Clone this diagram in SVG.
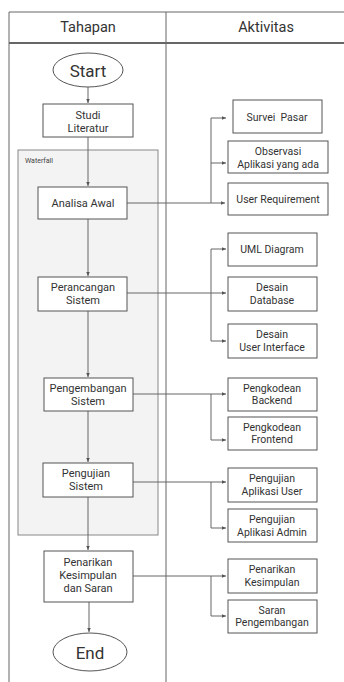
<svg xmlns="http://www.w3.org/2000/svg" width="344" height="682" viewBox="0 0 344 682">
<style>
.t{font-family:Roboto,"Liberation Sans",sans-serif;fill:#333;text-anchor:middle;dominant-baseline:central}
.n{font-size:11px}
.a{font-size:10.5px}
.h{font-size:14.5px}
.se{font-size:17px}
.box{fill:#fff;stroke:#555;stroke-width:1}
.c{fill:none;stroke:#666;stroke-width:1}
</style>
<defs>
<marker id="ar" markerWidth="5" markerHeight="5" refX="4.5" refY="2.5" orient="auto" markerUnits="userSpaceOnUse">
<path d="M0,0.5 L4.5,2.5 L0,4.5 z" fill="#555"/>
</marker>
</defs>
<g id="table">
<rect x="0" y="0" width="344" height="682" fill="#fff"/>
<line x1="9" y1="12" x2="344" y2="12" stroke="#666" stroke-width="1"/>
<line x1="9" y1="43" x2="344" y2="43" stroke="#666" stroke-width="2"/>
<line x1="9" y1="12" x2="9" y2="682" stroke="#666" stroke-width="1"/>
<line x1="166" y1="12" x2="166" y2="682" stroke="#666" stroke-width="1"/>
<text class="t h" x="88" y="27">Tahapan</text>
<text class="t h" x="266" y="27">Aktivitas</text>
</g>
<g id="waterfall">
<rect x="18" y="150" width="140" height="385" fill="#f3f3f3" stroke="#888" stroke-width="1"/>
<text x="25" y="161" style="font-family:Roboto,'Liberation Sans',sans-serif;font-size:7px;fill:#444;dominant-baseline:central">Waterfall</text>
</g>
<g id="connectors">
<path class="c" d="M88,87 V103" marker-end="url(#ar)"/>
<path class="c" d="M88,137 V186" marker-end="url(#ar)"/>
<path class="c" d="M88,219 V276" marker-end="url(#ar)"/>
<path class="c" d="M88,311 V377" marker-end="url(#ar)"/>
<path class="c" d="M88,411 V462" marker-end="url(#ar)"/>
<path class="c" d="M88,497 V550" marker-end="url(#ar)"/>
<path class="c" d="M89,602 V632" marker-end="url(#ar)"/>
<path class="c" d="M127,203 H225" marker-end="url(#ar)"/>
<path class="c" d="M211,203 V118 H226" marker-end="url(#ar)"/>
<path class="c" d="M211,163 H226" marker-end="url(#ar)"/>
<path class="c" d="M127,293 H226" marker-end="url(#ar)"/>
<path class="c" d="M211,293 V249 H226" marker-end="url(#ar)"/>
<path class="c" d="M211,293 V341 H226" marker-end="url(#ar)"/>
<path class="c" d="M133,394 H226" marker-end="url(#ar)"/>
<path class="c" d="M211,394 V440 H226" marker-end="url(#ar)"/>
<path class="c" d="M133,482 H226" marker-end="url(#ar)"/>
<path class="c" d="M211,482 V528 H226" marker-end="url(#ar)"/>
<path class="c" d="M133,576 H226" marker-end="url(#ar)"/>
<path class="c" d="M211,576 V616 H226" marker-end="url(#ar)"/>
</g>
<g id="start">
<ellipse cx="88" cy="70" rx="35" ry="17" class="box"/>
<text class="t se" x="88" y="71">Start</text>
</g>
<g id="studi">
<rect x="43" y="104" width="90" height="33" class="box"/>
<text class="t n" x="88" y="115">Studi</text>
<text class="t n" x="88" y="128">Literatur</text>
</g>
<g id="analisa">
<rect x="38" y="187" width="89" height="32" class="box"/>
<text class="t n" x="83" y="203">Analisa Awal</text>
</g>
<g id="perancangan">
<rect x="38" y="277" width="89" height="34" class="box"/>
<text class="t n" x="83" y="287">Perancangan</text>
<text class="t n" x="83" y="300">Sistem</text>
</g>
<g id="pengembangan">
<rect x="44" y="378" width="89" height="33" class="box"/>
<text class="t n" x="88" y="388">Pengembangan</text>
<text class="t n" x="88" y="401">Sistem</text>
</g>
<g id="pengujian">
<rect x="43" y="463" width="90" height="34" class="box"/>
<text class="t n" x="86" y="473">Pengujian</text>
<text class="t n" x="86" y="486">Sistem</text>
</g>
<g id="penarikan">
<rect x="44" y="551" width="89" height="51" class="box"/>
<text class="t n" x="88" y="562">Penarikan</text>
<text class="t n" x="88" y="575">Kesimpulan</text>
<text class="t n" x="88" y="588">dan Saran</text>
</g>
<g id="end">
<ellipse cx="90" cy="652" rx="37" ry="19" class="box"/>
<text class="t se" x="90" y="653">End</text>
</g>
<g id="survei">
<rect x="233" y="100" width="89" height="33" class="box"/>
<text class="t a" x="277" y="117" xml:space="preserve">Survei  Pasar</text>
</g>
<g id="observasi">
<rect x="228" y="141" width="100" height="32" class="box"/>
<text class="t a" x="278" y="151">Observasi</text>
<text class="t a" x="278" y="164">Aplikasi yang ada</text>
</g>
<g id="userreq">
<rect x="228" y="183" width="100" height="32" class="box"/>
<text class="t a" x="278" y="199">User Requirement</text>
</g>
<g id="uml">
<rect x="228" y="233" width="89" height="33" class="box"/>
<text class="t a" x="272" y="249">UML Diagram</text>
</g>
<g id="database">
<rect x="228" y="277" width="89" height="34" class="box"/>
<text class="t a" x="272" y="287">Desain</text>
<text class="t a" x="272" y="300">Database</text>
</g>
<g id="ui">
<rect x="228" y="324" width="89" height="34" class="box"/>
<text class="t a" x="272" y="334">Desain</text>
<text class="t a" x="272" y="347">User Interface</text>
</g>
<g id="backend">
<rect x="228" y="378" width="89" height="33" class="box"/>
<text class="t a" x="272" y="388">Pengkodean</text>
<text class="t a" x="272" y="400">Backend</text>
</g>
<g id="frontend">
<rect x="228" y="417" width="89" height="33" class="box"/>
<text class="t a" x="272" y="427">Pengkodean</text>
<text class="t a" x="272" y="439">Frontend</text>
</g>
<g id="appuser">
<rect x="228" y="468" width="89" height="34" class="box"/>
<text class="t a" x="272" y="478">Pengujian</text>
<text class="t a" x="272" y="491">Aplikasi User</text>
</g>
<g id="appadmin">
<rect x="228" y="509" width="89" height="33" class="box"/>
<text class="t a" x="272" y="519">Pengujian</text>
<text class="t a" x="272" y="532">Aplikasi Admin</text>
</g>
<g id="kesimpulan">
<rect x="228" y="559" width="89" height="34" class="box"/>
<text class="t a" x="272" y="569">Penarikan</text>
<text class="t a" x="272" y="582">Kesimpulan</text>
</g>
<g id="saran">
<rect x="228" y="600" width="89" height="33" class="box"/>
<text class="t a" x="272" y="610">Saran</text>
<text class="t a" x="272" y="622">Pengembangan</text>
</g>
</svg>
